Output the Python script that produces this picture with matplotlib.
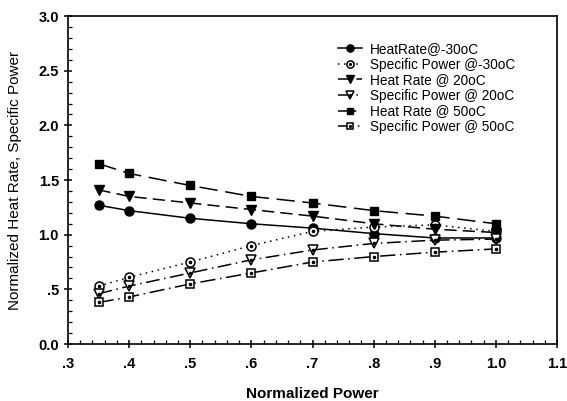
import matplotlib.pyplot as plt
from matplotlib.ticker import MultipleLocator, FixedLocator, FixedFormatter
from matplotlib.legend_handler import HandlerTuple

plt.rcParams['font.family'] = ['Liberation Sans', 'DejaVu Sans']

# normalized power levels
power = [0.35, 0.4, 0.5, 0.6, 0.7, 0.8, 0.9, 1.0]

# heat rate and specific power at three ambient temperatures
heat_rate_m30 = [1.27, 1.22, 1.15, 1.10, 1.06, 1.01, 0.97, 0.97]
spec_power_m30 = [0.53, 0.61, 0.75, 0.90, 1.03, 1.07, 1.09, 1.03]
heat_rate_20 = [1.41, 1.35, 1.29, 1.23, 1.17, 1.10, 1.05, 1.02]
spec_power_20 = [0.46, 0.53, 0.65, 0.77, 0.86, 0.92, 0.95, 0.96]
heat_rate_50 = [1.65, 1.56, 1.45, 1.35, 1.29, 1.22, 1.17, 1.10]
spec_power_50 = [0.38, 0.43, 0.55, 0.65, 0.75, 0.80, 0.84, 0.87]

x_ticks = [0.3, 0.4, 0.5, 0.6, 0.7, 0.8, 0.9, 1.0, 1.1]
x_labels = ['.3', '.4', '.5', '.6', '.7', '.8', '.9', '1.0', '1.1']
y_ticks = [0.0, 0.5, 1.0, 1.5, 2.0, 2.5, 3.0]
y_labels = ['0.0', '.5', '1.0', '1.5', '2.0', '2.5', '3.0']

fig = plt.figure(figsize=(5.67, 4.01), dpi=100)
ax = fig.add_axes([0.1199, 0.1421, 0.8625, 0.8179])

ms = 6.5
lw = 1.1


def dotted_center(y):
    # small dot drawn in the middle of open markers
    h, = ax.plot(power, y, ls='none', marker='o', ms=1.6, color='black', zorder=4)
    return h


h1, = ax.plot(power, heat_rate_m30, color='black', lw=lw, ls='-',
              marker='o', ms=ms, mfc='black')
h2, = ax.plot(power, spec_power_m30, color='black', lw=lw, ls=(0, (1, 3)),
              marker='o', ms=ms, mfc='white', mew=1.1)
h2d = dotted_center(spec_power_m30)
h3, = ax.plot(power, heat_rate_20, color='black', lw=lw, ls=(0, (8, 4)),
              marker='v', ms=ms, mfc='black')
h4, = ax.plot(power, spec_power_20, color='black', lw=lw, ls=(0, (9, 3, 1, 3)),
              marker='v', ms=ms, mfc='white', mew=1.1)
h4d = dotted_center(spec_power_20)
h5, = ax.plot(power, heat_rate_50, color='black', lw=lw, ls=(0, (12, 5)),
              marker='s', ms=ms - 0.5, mfc='black')
h6, = ax.plot(power, spec_power_50, color='black', lw=lw, ls=(0, (10, 3, 1, 3)),
              marker='s', ms=ms - 0.5, mfc='white', mew=1.1)
h6d = dotted_center(spec_power_50)

ax.set_xlim(0.3, 1.1)
ax.set_ylim(0.0, 3.0)
ax.xaxis.set_major_locator(FixedLocator(x_ticks))
ax.xaxis.set_major_formatter(FixedFormatter(x_labels))
ax.yaxis.set_major_locator(FixedLocator(y_ticks))
ax.yaxis.set_major_formatter(FixedFormatter(y_labels))
ax.xaxis.set_minor_locator(MultipleLocator(0.02))
ax.yaxis.set_minor_locator(MultipleLocator(0.1))
ax.tick_params(which='major', direction='inout', length=6, width=1.1,
               labelsize=10.5, top=False, right=False)
ax.tick_params(axis='x', which='major', pad=6)
ax.tick_params(which='minor', direction='in', length=3, width=0.9,
               top=False, right=False)
for lab in ax.get_xticklabels() + ax.get_yticklabels():
    lab.set_fontweight('bold')
for sp in ax.spines.values():
    sp.set_linewidth(1.2)

ax.set_xlabel('Normalized Power', fontsize=11, fontweight='bold', labelpad=12)
ax.set_ylabel('Normalized Heat Rate, Specific Power', fontsize=11, labelpad=12)

labels = ['HeatRate@-30oC', 'Specific Power @-30oC', 'Heat Rate @ 20oC',
          'Specific Power @ 20oC', 'Heat Rate @ 50oC', 'Specific Power @ 50oC']
handles = [h1, (h2, h2d), h3, (h4, h4d), h5, (h6, h6d)]
ax.legend(handles, labels, loc='upper left', bbox_to_anchor=(0.532, 0.95),
          frameon=False, fontsize=9.8, handlelength=1.8, handletextpad=0.6,
          labelspacing=0.12, markerscale=0.8, borderpad=0.2,
          handler_map={tuple: HandlerTuple(ndivide=1, pad=0)})

fig.savefig('out.png', dpi=100)
